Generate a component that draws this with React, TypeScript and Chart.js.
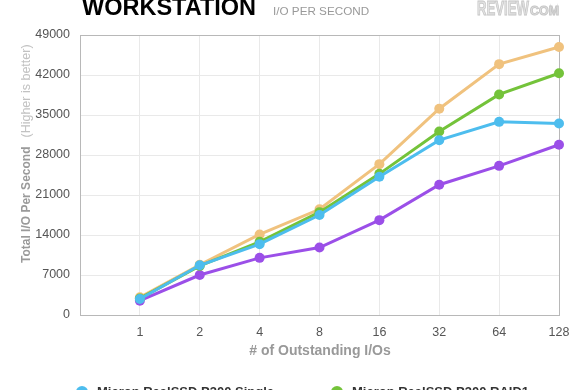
import React, { useEffect, useRef } from "react";
import { Chart, registerables } from "chart.js";

Chart.register(...registerables);

const categories = ["", "1", "2", "4", "8", "16", "32", "64", "128"];
const singleValues = [null, 2800, 8700, 12400, 17500, 24200, 30600, 33800, 33500];
const raid1Values = [null, 2900, 8600, 12800, 18000, 24700, 32100, 38600, 42300];
const raid0Values = [null, 3100, 8800, 14100, 18500, 26400, 36100, 43900, 46900];
const otherValues = [null, 2500, 7000, 10000, 11800, 16600, 22800, 26100, 29800];
const seriesNames = [
  "Micron RealSSD P300 Single",
  "Micron RealSSD P300 RAID1",
  "Micron RealSSD P300 RAID0",
  "Intel X25-E",
];
const seriesColors = ["#4dbdee", "#74c33a", "#f0c27e", "#9b4fe8"];
const yMax = 49000;
const yStep = 7000;

const FONT = "'Liberation Sans', Arial, Helvetica, sans-serif";

function drawScaledText(ctx: any, text: string, x: number, y: number, width: number) {
  const w = ctx.measureText(text).width;
  ctx.save();
  ctx.translate(x, y);
  ctx.scale(width / w, 1);
  ctx.fillText(text, 0, 0);
  ctx.strokeText(text, 0, 0);
  ctx.restore();
}

const overlay = {
  id: "overlay",
  beforeDatasetsDraw(chart: any) {
    const { ctx, chartArea } = chart;
    ctx.save();
    ctx.strokeStyle = "#b8b8b8";
    ctx.lineWidth = 1;
    ctx.strokeRect(
      Math.round(chartArea.left) + 0.5,
      Math.round(chartArea.top) + 0.5,
      Math.round(chartArea.right - chartArea.left),
      Math.round(chartArea.bottom - chartArea.top)
    );
    ctx.restore();
  },
  afterDraw(chart: any) {
    const { ctx } = chart;
    ctx.save();
    // Title
    ctx.textBaseline = "alphabetic";
    ctx.textAlign = "left";
    ctx.fillStyle = "#000";
    ctx.font = `bold 23.5px ${FONT}`;
    ctx.fillText("WORKSTATION", 82, 15);
    ctx.fillStyle = "#999";
    ctx.font = `11.7px ${FONT}`;
    ctx.fillText("I/O PER SECOND", 273, 14.5);
    // Logo
    ctx.fillStyle = "#e4e4e4";
    ctx.strokeStyle = "#c6c6c6";
    ctx.lineWidth = 1;
    ctx.font = `bold 21px ${FONT}`;
    drawScaledText(ctx, "REVIEW", 477, 15, 52);
    ctx.font = `bold 13px ${FONT}`;
    drawScaledText(ctx, "COM", 530, 15, 29);

    // Y title
    ctx.save();
    ctx.translate(27, 263);
    ctx.rotate(-Math.PI / 2);
    ctx.textBaseline = "middle";
    ctx.textAlign = "left";
    ctx.font = `bold 12px ${FONT}`;
    ctx.fillStyle = "#9a9a9a";
    const main = "Total I/O Per Second";
    ctx.fillText(main, 0, 0);
    const w = ctx.measureText(main).width;
    ctx.font = `12.5px ${FONT}`;
    ctx.fillStyle = "#c2c2c2";
    ctx.fillText("(Higher is better)", w + 9, 0);
    ctx.restore();

    // X title
    ctx.textAlign = "center";
    ctx.textBaseline = "middle";
    ctx.font = `bold 14px ${FONT}`;
    ctx.fillStyle = "#999";
    ctx.fillText("# of Outstanding I/Os", 320, 351);

    // Legend
    const cols = [
      { cx: 82, tx: 97 },
      { cx: 337, tx: 352 },
    ];
    seriesNames.forEach((name, i) => {
      const col = cols[i % 2];
      const y = 392 + Math.floor(i / 2) * 22;
      ctx.beginPath();
      ctx.arc(col.cx, y, 6, 0, Math.PI * 2);
      ctx.fillStyle = seriesColors[i];
      ctx.fill();
      ctx.textAlign = "left";
      ctx.textBaseline = "middle";
      ctx.font = `bold 13px ${FONT}`;
      ctx.fillStyle = "#333";
      ctx.fillText(name, col.tx, y);
    });
    ctx.restore();
  },
};

export default function App() {
  const ref = useRef<HTMLCanvasElement | null>(null);
  useEffect(() => {
    if (!ref.current) return;
    const all = [singleValues, raid1Values, raid0Values, otherValues];
    const chart = new Chart(ref.current, {
      type: "line",
      data: {
        labels: categories,
        datasets: all.map((d, i) => ({
          label: seriesNames[i],
          data: d,
          borderColor: seriesColors[i],
          backgroundColor: seriesColors[i],
          pointBackgroundColor: seriesColors[i],
          pointBorderColor: seriesColors[i],
          borderWidth: 3,
          pointRadius: 5,
          pointBorderWidth: 0,
          tension: 0,
          spanGaps: false,
        })),
      },
      options: {
        responsive: false,
        animation: false,
        devicePixelRatio: 1,
        layout: { padding: { left: 0, right: 21, top: 35, bottom: 0 } },
        plugins: {
          legend: { display: false },
          tooltip: { enabled: false },
          title: { display: false },
        },
        scales: {
          x: {
            type: "category",
            offset: false,
            afterFit: (s: any) => {
              s.height = 75;
              s.paddingLeft = 0;
              s.paddingRight = 0;
            },
            grid: { color: "#e9e9e9", drawTicks: false },
            border: { display: false },
            ticks: {
              padding: 10,
              color: "#555",
              font: { family: FONT, size: 12.5 },
              maxRotation: 0,
              autoSkip: false,
            },
          },
          y: {
            min: 0,
            max: yMax,
            afterFit: (s: any) => {
              s.width = 80;
            },
            grid: { color: "#e9e9e9", drawTicks: false },
            border: { display: false },
            ticks: {
              stepSize: yStep,
              padding: 10,
              color: "#555",
              font: { family: FONT, size: 12.5 },
              callback: (v: any) => String(v),
            },
          },
        },
      },
      plugins: [overlay],
    });
    return () => chart.destroy();
  }, []);
  return (
    <div style={{ position: "absolute", left: 0, top: 0, width: 580, height: 390, overflow: "hidden", background: "#fff" }}>
      <canvas ref={ref} width={580} height={390} style={{ display: "block" }} />
    </div>
  );
}
